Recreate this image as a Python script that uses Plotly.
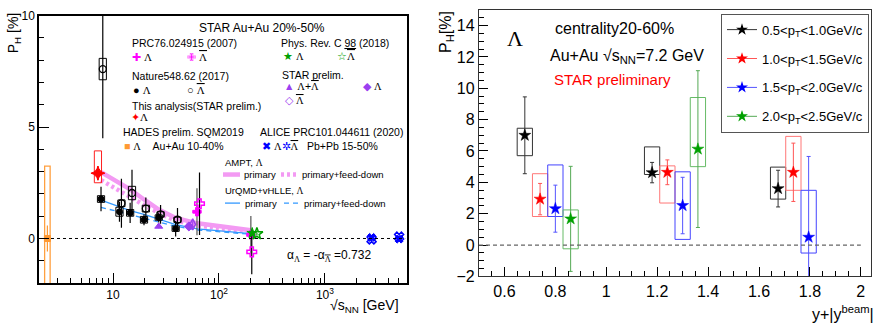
import plotly.graph_objects as go
import numpy as np

FONT = "Liberation Sans"
SERIF = "Liberation Serif"
W, H = 874, 333

# ---------------- Left panel data ----------------
hades_s = [2.4]; hades_P = [0.0]; hades_stat = [0.58]; hades_syslo = [-3.25]; hades_syshi = [3.25]
this_s = [7.2]; this_P = [2.93]; this_stat = [0.32]; this_syslo = [2.5]; this_syshi = [3.93]

nat_s = [7.7, 11.5, 14.5, 19.6, 27, 39]
nat_L = [1.77, 1.20, 1.15, 0.84, 0.94, 0.44]
nat_L_stat = [0.55, 0.45, 0.45, 0.25, 0.22, 0.35]
nat_L_sys = [0.15, 0.2, 0.15, 0.15, 0.12, 0.12]
nat_Lb_s = [8.0, 12.0, 15.1, 20.4, 28.1, 40.6]
nat_Lb = [7.60, 1.58, 2.04, 1.34, 1.08, 0.84]
nat_Lb_stat = [3.1, 1.1, 1.04, 0.5, 0.42, 0.53]
nat_Lb_sys = [0.48, 0.15, 0.3, 0.15, 0.12, 0.12]

prc76_s = [62.0, 200.0]; prc76_L = [1.20, 0.16]; prc76_L_stat = [1.05, 0.85]
prc76b_s = [65.5, 204.0]; prc76_Lb = [1.56, -0.60]; prc76_Lb_stat = [1.4, 1.0]

prc98_s = [206.0]; prc98_L = [0.24]; prc98_L_stat = [0.05]
prc98b_s = [228.0]; prc98_Lb = [0.21]; prc98_Lb_stat = [0.06]

starp_LLb_s = [27.0]; starp_LLb = [0.54]; starp_LLb_stat = [0.08]
starp_L_s = [52.0]; starp_L = [0.54]; starp_L_stat = [0.10]
starp_Lb_s = [56.5]; starp_Lb = [0.63]; starp_Lb_stat = [0.14]

alice_s = [2760.0, 5020.0]; alice_L = [0.05, -0.03]; alice_L_stat = [0.10, 0.12]
alice_Lb = [-0.04, 0.08]; alice_Lb_stat = [0.10, 0.15]

model_s = [7.7, 11.5, 14.5, 19.6, 27, 39, 62.4, 200]
ampt_prim = [2.98, 2.50, 2.20, 1.75, 1.30, 0.92, 0.68, 0.37]
ampt_fd = [2.62, 2.12, 1.88, 1.50, 1.15, 0.80, 0.58, 0.30]
urqmd_prim = [1.72, 1.40, 1.25, 1.08, 0.85, 0.62, 0.43, 0.22]
urqmd_fd = [1.40, 1.20, 1.06, 0.92, 0.74, 0.55, 0.38, 0.19]

# ---------------- Right panel data ----------------
pt_labels = ["0.5<p<sub>T</sub><1.0GeV/c", "1.0<p<sub>T</sub><1.5GeV/c",
             "1.5<p<sub>T</sub><2.0GeV/c", "2.0<p<sub>T</sub><2.5GeV/c"]
r_x = [[0.68, 1.18, 1.675], [0.74, 1.24, 1.735], [0.80, 1.30, 1.795], [0.86, 1.36]]
r_P = [[7.0, 4.62, 3.6], [2.93, 4.64, 4.64], [2.32, 2.52, 0.5], [1.67, 6.12]]
r_stat = [[2.45, 0.65, 1.17], [1.0, 0.79, 1.86], [1.5, 1.8, 5.15], [3.35, 5.0]]
r_syslo = [[5.7, 4.5, 2.93], [1.82, 2.68, 3.49], [1.82, 0.36, -0.51], [-0.24, 5.0]]
r_syshi = [[7.45, 6.26, 4.97], [4.55, 5.05, 6.93], [5.11, 4.67, 3.49], [2.24, 9.41]]

r_mcol = ["#000000", "#ff0000", "#0000ff", "#00a000"]
r_ecol = ["#333333", "#ff5555", "#5555ff", "#55aa55"]
r_bcol = ["#333333", "#ff7777", "#4444ff", "#66bb66"]


def box_xy(xs, lo, hi, hw, log=False):
    X, Y = [], []
    for x, l, h in zip(xs, lo, hi):
        if log:
            x0, x1 = x * 10 ** (-hw), x * 10 ** hw
        else:
            x0, x1 = x - hw, x + hw
        X += [x0, x1, x1, x0, x0, None]
        Y += [l, l, h, h, l, None]
    return X, Y


fig = go.Figure()
L = dict(xaxis="x", yaxis="y", showlegend=False)
R = dict(xaxis="x2", yaxis="y2")
PINK = "#f39af3"

# models
fig.add_trace(go.Scatter(x=model_s, y=ampt_prim, mode="lines", line=dict(color=PINK, width=4.5), **L))
fig.add_trace(go.Scatter(x=model_s, y=ampt_fd, mode="lines", line=dict(color=PINK, width=4.5, dash="3px,3px"), **L))
fig.add_trace(go.Scatter(x=model_s, y=urqmd_prim, mode="lines", line=dict(color="#3399ff", width=1.3), **L))
fig.add_trace(go.Scatter(x=model_s, y=urqmd_fd, mode="lines", line=dict(color="#3399ff", width=1.3, dash="5px,4px"), **L))

# sys boxes left
hx, hy = box_xy(hades_s, hades_syslo, hades_syshi, 0.026, log=True)
fig.add_trace(go.Scatter(x=hx, y=hy, mode="lines", line=dict(color="#ffa040", width=1.3), **L))
tx, ty = box_xy(this_s, this_syslo, this_syshi, 0.034, log=True)
fig.add_trace(go.Scatter(x=tx, y=ty, mode="lines", line=dict(color="#ff2020", width=1), **L))
nx, ny = box_xy(nat_s, [p - s for p, s in zip(nat_L, nat_L_sys)], [p + s for p, s in zip(nat_L, nat_L_sys)], 0.034, log=True)
fig.add_trace(go.Scatter(x=nx, y=ny, mode="lines", line=dict(color="black", width=1), **L))
nbx, nby = box_xy(nat_Lb_s, [p - s for p, s in zip(nat_Lb, nat_Lb_sys)], [p + s for p, s in zip(nat_Lb, nat_Lb_sys)], 0.034, log=True)
fig.add_trace(go.Scatter(x=nbx, y=nby, mode="lines", line=dict(color="black", width=1), **L))


def pts(x, y, e, sym, col, size=7, ecol=None, lw=1.0):
    fig.add_trace(go.Scatter(x=x, y=y, mode="markers",
                             marker=dict(symbol=sym, size=size, color=col, line=dict(color=col, width=lw)),
                             error_y=dict(type="data", array=e, color=ecol or col, thickness=1.2, width=0), **L))


pts(hades_s, hades_P, hades_stat, "square", "#ff9933", 6)
pts(nat_s, nat_L, nat_L_stat, "circle", "black", 6)
pts(nat_Lb_s, nat_Lb, nat_Lb_stat, "circle-open", "black", 7, lw=1.3)
pts(prc76_s, prc76_L, prc76_L_stat, "cross", "#ff00ff", 7, ecol="#555555")
pts(prc76b_s, prc76_Lb, prc76_Lb_stat, "cross-open", "#ff00ff", 8, ecol="black", lw=1.5)
pts(starp_LLb_s, starp_LLb, starp_LLb_stat, "triangle-up", "#9b40f0", 7)
pts(starp_L_s, starp_L, starp_L_stat, "diamond", "#9b40f0", 7)
pts(starp_Lb_s, starp_Lb, starp_Lb_stat, "diamond-tall-open", "#9b40f0", 8, lw=1.5)
pts(prc98_s, prc98_L, prc98_L_stat, "star", "#00a000", 8)
pts(prc98b_s, prc98_Lb, prc98_Lb_stat, "star-open", "#00a000", 9, lw=1.5)
pts(alice_s, alice_L, alice_L_stat, "x", "#0000ff", 7)
pts(alice_s, alice_Lb, alice_Lb_stat, "x-open", "#0000ff", 8, lw=1.5)
pts(this_s, this_P, this_stat, "star-diamond", "#ff0000", 10)

# ---------------- Right panel traces ----------------
for i in range(4):
    bx, by = box_xy(r_x[i], r_syslo[i], r_syshi[i], 0.03)
    fig.add_trace(go.Scatter(x=bx, y=by, mode="lines", line=dict(color=r_bcol[i], width=1), showlegend=False, **R))
for i in range(4):
    fig.add_trace(go.Scatter(x=r_x[i], y=r_P[i], mode="markers",
                             marker=dict(symbol="star", size=9, color=r_mcol[i], line=dict(color=r_mcol[i], width=0.5)),
                             error_y=dict(type="data", array=r_stat[i], color=r_ecol[i], thickness=1, width=2),
                             showlegend=False, **R))
for i in range(4):
    fig.add_trace(go.Scatter(x=[None], y=[None], mode="lines+markers", name=pt_labels[i],
                             legendgroup="g%d" % i,
                             marker=dict(symbol="star", size=9, color=r_mcol[i]),
                             line=dict(color=r_ecol[i], width=1), **R))

# ---------------- Layout ----------------
left_dom_x = [39 / W, 407 / W]
left_dom_y = [(H - 290) / H, (H - 9) / H]
right_dom_x = [479 / W, 871 / W]
right_dom_y = [(H - 283) / H, (H - 3) / H]

minor_log = [m * 10 ** d for d in range(0, 4) for m in range(2, 10) if 2 <= m * 10 ** d <= 6000]

axcommon = dict(showline=True, mirror=True, showgrid=False, zeroline=False, ticks="inside")

fig.update_layout(
    width=W, height=H, margin=dict(l=0, r=0, t=0, b=0),
    paper_bgcolor="white", plot_bgcolor="white",
    font=dict(family=FONT, color="black"),
    xaxis=dict(domain=left_dom_x, anchor="y", type="log", range=[np.log10(2), 3.775],
               tickmode="array", tickvals=[10, 100, 1000], ticktext=["10", "10<sup>2</sup>", "10<sup>3</sup>"],
               ticklen=10, tickwidth=1, tickcolor="black", linecolor="black", linewidth=1.5,
               tickfont=dict(size=12),
               minor=dict(tickmode="array", tickvals=minor_log, ticks="inside", ticklen=5, tickcolor="black"),
               **axcommon),
    yaxis=dict(domain=left_dom_y, anchor="x", range=[-2, 10], dtick=5, tick0=0,
               ticklen=10, tickcolor="black", linecolor="black", linewidth=1.5, tickfont=dict(size=12),
               minor=dict(dtick=1, ticks="inside", ticklen=5, tickcolor="black"), **axcommon),
    xaxis2=dict(domain=right_dom_x, anchor="y2", range=[0.5, 2.04], dtick=0.2, tick0=0,
                ticklen=9, tickcolor="black", linecolor="#333333", linewidth=1.3, tickfont=dict(size=16),
                minor=dict(dtick=0.05, ticks="inside", ticklen=5, tickcolor="black"), **axcommon),
    yaxis2=dict(domain=right_dom_y, anchor="x2", range=[-2, 15], dtick=2, tick0=0,
                ticklen=9, tickcolor="black", linecolor="#333333", linewidth=1.3, tickfont=dict(size=16),
                minor=dict(dtick=0.5, ticks="inside", ticklen=5, tickcolor="black"), **axcommon),
    legend=dict(x=721 / W, y=1 - 7 / H, xanchor="left", yanchor="top", bgcolor="white",
                bordercolor="#555555", borderwidth=1, font=dict(size=13, family=FONT),
                tracegroupgap=9, itemwidth=30),
)

# reference lines
fig.add_shape(type="line", xref="x domain", yref="y", x0=0, x1=0.995, y0=0, y1=0,
              line=dict(color="black", width=1, dash="dot"))
fig.add_shape(type="line", xref="x2", yref="y2", x0=0.5, x1=2.0, y0=0, y1=0,
              line=dict(color="#666666", width=1.3, dash="4px,3px"))


def ann(text, px, py, size=10.5, color="black", xanchor="left", family=FONT, angle=0, yanchor="middle"):
    fig.add_annotation(text=text, x=px / W, y=1 - py / H, xref="paper", yref="paper",
                       xanchor=xanchor, yanchor=yanchor, showarrow=False, textangle=angle,
                       font=dict(size=size, color=color, family=family))


LAM = "<span style='font-family:Liberation Serif'>Λ</span>"
LAMB = "<span style='font-family:Liberation Serif;text-decoration:overline'>Λ</span>"

# left legend block
ann("STAR Au+Au 20%-50%", 197, 22, 12)
ann("PRC76.024915 (2007)", 130, 38)
ann("<span style='color:#ff00ff'>✚</span> " + LAM, 130, 53, 11)
ann("<span style='color:#ff00ff'>✙</span> " + LAMB, 185, 53, 11)
ann("Nature548.62 (2017)", 130, 72)
ann("● " + LAM, 131, 87, 11)
ann("○ " + LAMB, 185, 87, 11)
ann("This analysis(STAR prelim.)", 130, 104)
ann("<span style='color:#ff0000'>✦</span>" + LAM, 129, 116, 11)
ann("HADES prelim. SQM2019", 121, 131)
ann("<span style='color:#ff9933'>■</span> " + LAM + "    Au+Au 10-40%", 122, 146, 10.5)
ann("Phys. Rev. C <span style='text-decoration:underline'>98</span> (2018)", 279, 38)
ann("<span style='color:#00a000'>★</span> " + LAM, 281, 51, 10.5)
ann("<span style='color:#00a000'>☆</span>" + LAMB, 335, 51, 11)
ann("STAR prelim.", 280, 71)
ann("<span style='color:#9b40f0'>▲</span> " + LAM + "+" + LAMB, 282, 83, 10.5)
ann("<span style='color:#9b40f0'>◆</span> " + LAM, 361, 83, 10.5)
ann("<span style='color:#9b40f0'>◇</span> " + LAMB, 283, 98, 10.5)
ann("ALICE PRC101.044611 (2020)", 258, 131)
ann("<span style='color:#0000ff'>✖</span> " + LAM + "<span style='color:#0000ff'>✲</span>" + LAMB + "   Pb+Pb 15-50%", 260, 146, 10.5)
ann("AMPT, " + LAM, 223, 163, 9.5)
ann("primary", 242, 176, 9.5)
ann("primary+feed-down", 300, 176, 9.5)
ann("UrQMD+vHLLE, " + LAM, 223, 193, 9.5)
ann("primary", 243, 206, 9.5)
ann("primary+feed-down", 302, 206, 9.5)
ann("α<sub>" + LAM + "</sub> = -α<sub>" + LAMB + "</sub> =0.732", 285, 262, 12)

# legend keys for models (paper coords)
for (x0, x1, yk, col, wd, dsh) in [(223, 240, 176, PINK, 4.5, "solid"), (281, 298, 176, PINK, 4.5, "3px,3px"),
                                    (225, 240, 206, "#3399ff", 1.3, "solid"), (284, 299, 206, "#3399ff", 1.3, "5px,4px")]:
    fig.add_shape(type="line", xref="paper", yref="paper", x0=x0 / W, x1=x1 / W, y0=1 - yk / H, y1=1 - yk / H,
                  line=dict(color=col, width=wd, dash=dsh))

# axis titles
ann("√s<sub>NN</sub> [GeV]", 401, 314, 14, xanchor="right")
ann("P<sub>H</sub> [%]", 14, 4, 14, xanchor="center", angle=-90, yanchor="top")
ann("y+|y<sup>beam</sup>|", 876, 321, 16, xanchor="right")
ann("P<sub>H</sub>[%]", 447, 2, 16, xanchor="center", angle=-90, yanchor="top")

# right panel texts
ann("Λ", 505, 33, 22, family=SERIF)
ann("centrality20-60%", 553, 23, 16)
ann("Au+Au √s<sub>NN</sub>=7.2 GeV", 548, 52, 16)
ann("STAR preliminary", 552, 76, 15, color="#ff0000")

fig.write_html("out.html")
